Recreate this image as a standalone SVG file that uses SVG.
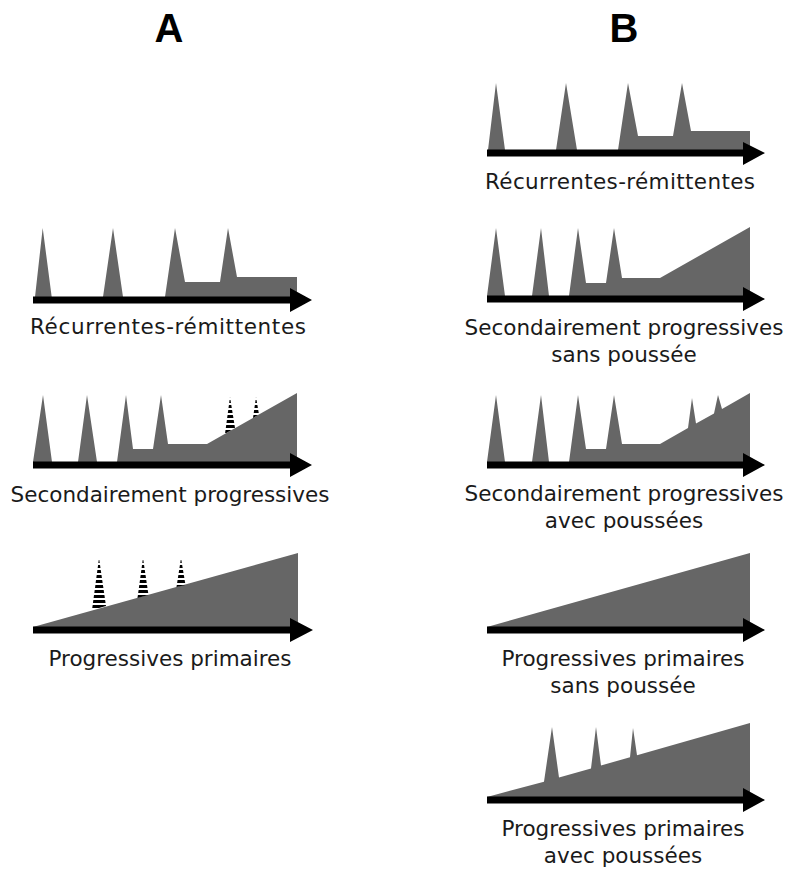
<svg xmlns="http://www.w3.org/2000/svg" width="790" height="869" viewBox="0 0 790 869">
<style>
.bg{fill:#ffffff}
.area{fill:#666666}
.axis{fill:#000000}
.lbl{font-family:"DejaVu Sans","Liberation Sans",sans-serif;font-size:21.5px;fill:#1a1a1a;text-anchor:middle}
.hdr{font-family:"Liberation Sans",Arial,sans-serif;font-size:40px;font-weight:bold;fill:#000;text-anchor:middle}
.dash{fill:url(#stripes)}
</style>
<defs>
<pattern id="stripes" patternUnits="userSpaceOnUse" x="0" y="0" width="10" height="5">
<rect x="0" y="0" width="10" height="3" fill="#000000"/>
</pattern>
</defs>
<rect class="bg" x="0" y="0" width="790" height="869"/>

<g id="headers">
<text class="hdr" x="169" y="42">A</text>
<text class="hdr" x="624" y="42">B</text>
</g>

<g id="A1">
<path class="area" d="M35,297 L42.7,228 L51.7,297 Z M103,297 L113,228 L123,297 Z M165,297 L175,228 L185,282 L220,282 L228,228 L237,277 L297,277 L297,297 Z"/>
<text class="lbl" x="168" y="334" textLength="276" lengthAdjust="spacing">Récurrentes-rémittentes</text>
</g>

<g id="A2">
<path class="area" d="M33,462 L43,395 L52,462 Z M78,462 L87,395 L97,462 Z M117,462 L126,395 L133,449 L153,449 L161,395 L168,444 L207,444 L297,393 L297,462 Z"/>
<polygon class="dash" points="225,433.8 230,397 235,428.1"/>
<polygon class="dash" points="253,417.9 256,397 259,414.5"/>
<text class="lbl" x="170" y="502">Secondairement progressives</text>
</g>

<g id="A3">
<polygon class="area" points="33,627 298,553 298,628 33,628"/>
<polygon class="dash" points="92,610 99,558 106,606"/>
<polygon class="dash" points="137.5,598 143,558 148.5,595"/>
<polygon class="dash" points="176.5,587 181,558 185.5,585"/>
<text class="lbl" x="170" y="666">Progressives primaires</text>
</g>

<g id="B1">
<path class="area" d="M488,150 L496,83 L505,150 Z M556,150 L566,83 L577,150 Z M618,150 L628,83 L638,136 L673,136 L682,83 L691,131 L750,131 L750,150 Z"/>
<text class="lbl" x="620" y="189" textLength="270" lengthAdjust="spacing">Récurrentes-rémittentes</text>
</g>

<g id="B2">
<path class="area" d="M487,296 L496,228 L505,296 Z M532,296 L541,228 L549,296 Z M569,296 L578,228 L586,283 L606,283 L614,228 L622,278 L660,278 L750,227 L750,296 Z"/>
<text class="lbl" x="624" y="335">Secondairement progressives</text>
<text class="lbl" x="624" y="362">sans poussée</text>
</g>

<g id="B3">
<path class="area" d="M487,462 L496,395 L505,462 Z M532,462 L541,395 L549,462 Z M569,462 L578,395 L586,449 L606,449 L614,395 L622,444 L660,444 L688,428.1 L692,398 L696,423.6 L714,413.4 L718,395 L722,408.9 L750,393 L750,462 Z"/>
<text class="lbl" x="624" y="501">Secondairement progressives</text>
<text class="lbl" x="624" y="528">avec poussées</text>
</g>

<g id="B4">
<polygon class="area" points="487,627 750,553 750,628 487,628"/>
<text class="lbl" x="623" y="666">Progressives primaires</text>
<text class="lbl" x="623" y="693">sans poussée</text>
</g>

<g id="B5">
<polygon class="area" points="487,797 544,781.7 552,727 559,777.5 591,768.4 596,727 601,765.5 630,757.2 633,728 637,755.2 750,723 750,798 487,798"/>
<text class="lbl" x="623" y="836">Progressives primaires</text>
<text class="lbl" x="623" y="863">avec poussées</text>
</g>

<g id="connectors">
<path class="axis" d="M33,296.5 H290 V288 L312,300 L290,312 V303.5 H33 Z"/>
<path class="axis" d="M33,461.5 H290 V453 L312,465 L290,477 V468.5 H33 Z"/>
<path class="axis" d="M33,626.5 H290 V618 L313,630 L290,642 V633.5 H33 Z"/>
<path class="axis" d="M487,149.5 H743 V142 L765,153 L743,165 V156.5 H487 Z"/>
<path class="axis" d="M487,295.5 H743 V287 L765,299 L743,311 V302.5 H487 Z"/>
<path class="axis" d="M487,461.5 H743 V453 L765,465 L743,477 V468.5 H487 Z"/>
<path class="axis" d="M487,626.5 H743 V618 L765,630 L743,642 V633.5 H487 Z"/>
<path class="axis" d="M487,796.5 H743 V788 L765,800 L743,812 V803.5 H487 Z"/>
</g>
</svg>
